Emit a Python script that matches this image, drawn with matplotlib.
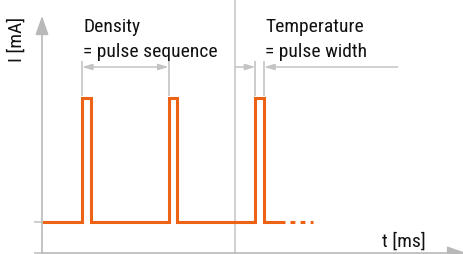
import matplotlib
matplotlib.use("Agg")
import matplotlib.pyplot as plt
from matplotlib import font_manager

# pulse train (t in ms, I in mA)
pulse_starts = [4.6, 14.6, 24.6]
pulse_width = 1.0
i_low = 1.0
i_high = 5.0
t_end = 28.0
dots_t = [28.6, 31.2]
divider_t = 22.25
temp_arrow_from = 41.0

label_density = ["Density", "= pulse sequence"]
label_temp = ["Temperature", "= pulse width"]
xlabel = "t [ms]"
ylabel = "I [mA]"

orange = "#ee6216"
gray = "#c4c4c4"
axis_gray = "#b9b9b9"

names = {f.name for f in font_manager.fontManager.ttflist}
family = "DejaVu Sans"
for cand in ["Liberation Sans Narrow", "DejaVu Sans Condensed", "Roboto Condensed",
             "Open Sans Condensed", "Noto Sans"]:
    if cand in names:
        family = cand
        break
plt.rcParams["font.family"] = family

t = [0.0]
cur = [i_low]
for s in pulse_starts:
    t += [s, s, s + pulse_width, s + pulse_width]
    cur += [i_low, i_high, i_high, i_low]
t.append(t_end)
cur.append(i_low)

fig = plt.figure(figsize=(4.63, 2.55), dpi=100)
ax = fig.add_axes([42 / 463, 1 / 255, 421 / 463, 254 / 255])
ax.set_xlim(0, 421 / 8.675)
ax.set_ylim(0, 254 / 31)
for sp in ax.spines.values():
    sp.set_visible(False)
ax.set_xticks([])
ax.set_yticks([0, i_low])
ax.set_yticklabels([])
ax.tick_params(axis="y", length=5.8, width=1.2, color=gray, direction="out")

# axes with arrows
ax.annotate("", xy=(0, 7.65), xytext=(0, -0.1), annotation_clip=False,
            arrowprops=dict(arrowstyle="-|>,head_length=1.15,head_width=0.4",
                            mutation_scale=10, color=axis_gray, lw=1.2,
                            shrinkA=0, shrinkB=0))
ax.annotate("", xy=(48.9, 0), xytext=(0, 0), annotation_clip=False,
            arrowprops=dict(arrowstyle="-|>,head_length=1.15,head_width=0.4",
                            mutation_scale=10, color=axis_gray, lw=1.2,
                            shrinkA=0, shrinkB=0))

ax.axvline(divider_t, ymin=-0.01, ymax=1, color=gray, lw=1.1, clip_on=False)

# pulse line
ax.plot(t, cur, color=orange, lw=2.2, solid_joinstyle="miter", solid_capstyle="butt")
ax.plot(dots_t, [i_low, i_low], color=orange, lw=2.2, linestyle=(0, (1.6, 1.7)),
        dash_capstyle="butt")

# density annotation
y_guide0, y_guide1, y_arr = 5.06, 6.19, 6.0
ax.vlines([pulse_starts[0], pulse_starts[1]], y_guide0, y_guide1, color=gray, lw=1.2)
ax.annotate("", xy=(pulse_starts[1], y_arr), xytext=(pulse_starts[0], y_arr),
            arrowprops=dict(arrowstyle="<|-|>,head_length=0.6,head_width=0.18",
                            mutation_scale=10, color=gray, lw=1.1,
                            shrinkA=0, shrinkB=0))

# temperature annotation
p3 = pulse_starts[2]
ax.vlines([p3, p3 + pulse_width], y_guide0, y_guide1, color=gray, lw=1.2)
ax.annotate("", xy=(p3, y_arr), xytext=(divider_t, y_arr),
            arrowprops=dict(arrowstyle="-|>,head_length=0.6,head_width=0.18",
                            mutation_scale=10, color=gray, lw=1.1,
                            shrinkA=0, shrinkB=0))
ax.annotate("", xy=(p3 + pulse_width, y_arr), xytext=(temp_arrow_from, y_arr),
            arrowprops=dict(arrowstyle="-|>,head_length=0.6,head_width=0.18",
                            mutation_scale=10, color=gray, lw=1.1,
                            shrinkA=0, shrinkB=0))

fs = 14
tc = "#111111"
ax.text(pulse_starts[0] + 0.15, 7.17, label_density[0], fontsize=fs, va="baseline", color=tc)
ax.text(pulse_starts[0] + 0.15, 6.37, label_density[1], fontsize=fs, va="baseline", color=tc)
ax.text(p3 + pulse_width + 0.1, 7.17, label_temp[0], fontsize=fs, va="baseline", color=tc)
ax.text(p3 + pulse_width + 0.1, 6.37, label_temp[1], fontsize=fs, va="baseline", color=tc)

ax.text(44.2, 0.24, xlabel, fontsize=fs, va="baseline", ha="right", color=tc)
fig.text(17 / 463, 1 - 39 / 255, ylabel, fontsize=fs, rotation=90, ha="center", va="center",
         color=tc)

fig.savefig("out.png", dpi=100)
